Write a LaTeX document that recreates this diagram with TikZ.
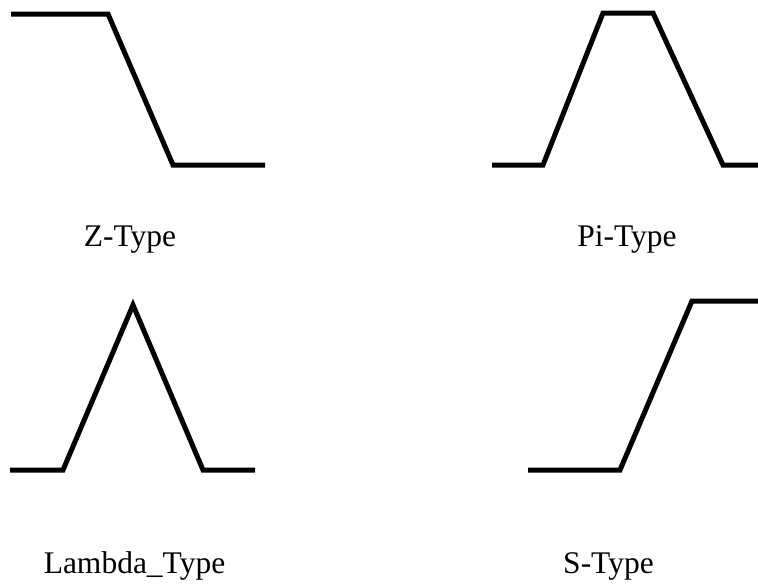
\documentclass[tikz,border=0pt]{standalone}
\usepackage{fontspec}
\setmainfont{Liberation Serif}
\begin{document}
\begin{tikzpicture}[x=1pt,y=-1pt,
  curve/.style={line width=5pt,line join=miter,black},
  lbl/.style={anchor=base,inner sep=0pt,font=\fontsize{31.5}{37}\selectfont}]
\useasboundingbox (0,0) rectangle (758,587);
% Z-Type
\draw[curve] (11,14) -- (108,14) -- (173,165) -- (265,165);
% Pi-Type
\draw[curve] (492,165) -- (543,165) -- (603,13) -- (653,13) -- (723,165) -- (758,165);
% Lambda
\draw[curve] (10,470) -- (63,470) -- (133,305) -- (203,470) -- (255,470);
% S-Type
\draw[curve] (528,470) -- (620,470) -- (692,301) -- (758,301);
% labels
\node[lbl] (zt) at (130,246) {Z-Type};
\node[lbl] (pt) at (627,246) {Pi-Type};
\node[lbl] (lt) at (134.5,573) {Lambda\_Type};
\node[lbl] (st) at (608.5,573) {S-Type};
\end{tikzpicture}
\end{document}
